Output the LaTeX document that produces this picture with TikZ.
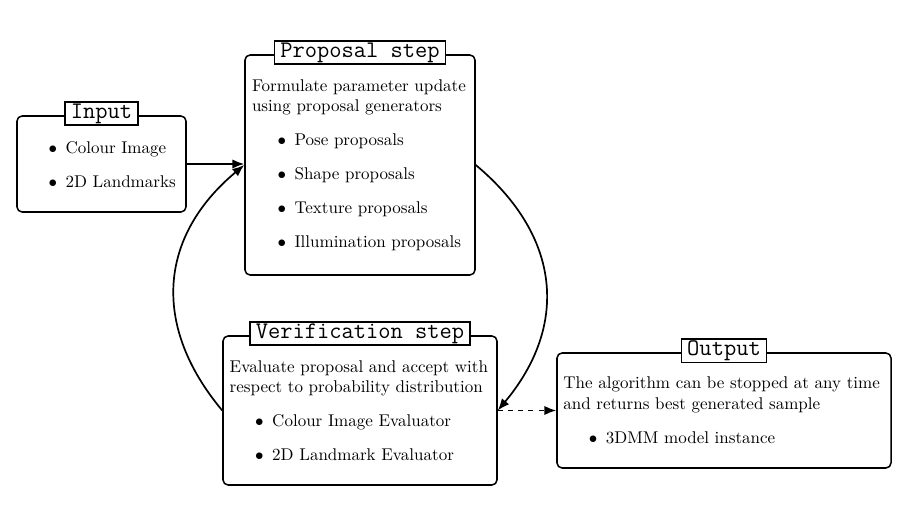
\documentclass[tikz,border=0pt]{standalone}
\usetikzlibrary{arrows.meta,fit}
\newcommand{\bul}{\hspace*{15pt}$\bullet$\hspace{5pt}}
\begin{document}
\begin{tikzpicture}[x=0.5882pt,y=0.5882pt,
  box/.style={draw,line width=0.9pt,rounded corners=3pt,inner sep=0pt},
  boxtitle/.style={draw,line width=0.9pt,fill=white,inner xsep=3.3pt,inner ysep=1pt,
    font=\fontsize{14}{17}\selectfont\ttfamily},
  content/.style={anchor=north west,inner sep=0pt,align=left,font=\normalsize},
  arr/.style={line width=1pt,-{Latex[length=7pt,width=5.5pt]}}]
\useasboundingbox (0,0) rectangle (906,519);
% boxes
\node[box,fit={(17,403) (186,307)}] (input) {};
\node[box,fit={(245,464) (475,244)}] (prop) {};
\node[box,fit={(223,183) (497,34)}] (verif) {};
\node[box,fit={(557,166) (891,51)}] (output) {};
% contents
\node[content] (inputtxt) at (22.7,377.8)
  {\bul Colour Image\\[8pt]\bul 2D Landmarks};
\node[content] (proptxt) at (251.7,439.8)
  {Formulate parameter update\\using proposal generators\\[8pt]
   \bul Pose proposals\\[8pt]\bul Shape proposals\\[8pt]
   \bul Texture proposals\\[8pt]\bul Illumination proposals};
\node[content] (veriftxt) at (229.4,158.8)
  {Evaluate proposal and accept with\\respect to probability distribution\\[8pt]
   \bul Colour Image Evaluator\\[8pt]\bul 2D Landmark Evaluator};
\node[content] (outputtxt) at (563,142.3)
  {The algorithm can be stopped at any time\\and returns best generated sample\\[8pt]
   \bul 3DMM model instance};
% titles
\node[boxtitle] (inputtitle) at ([yshift=1pt]input.north) {Input};
\node[boxtitle] (proptitle) at ([yshift=1pt]prop.north) {Proposal step};
\node[boxtitle] (veriftitle) at ([yshift=1pt]verif.north) {Verification step};
\node[boxtitle] (outputtitle) at ([yshift=1pt]output.north) {Output};
% connectors
\draw[arr] (input.east) -- (input.east -| prop.west);
\draw[arr] (verif.west) to[bend left=45,looseness=1.15] (prop.west);
\draw[arr] (prop.east) to[bend left=45,looseness=1.15] (verif.east);
\draw[arr,dashed] (verif.east) -- (output.west);
\end{tikzpicture}
\end{document}
